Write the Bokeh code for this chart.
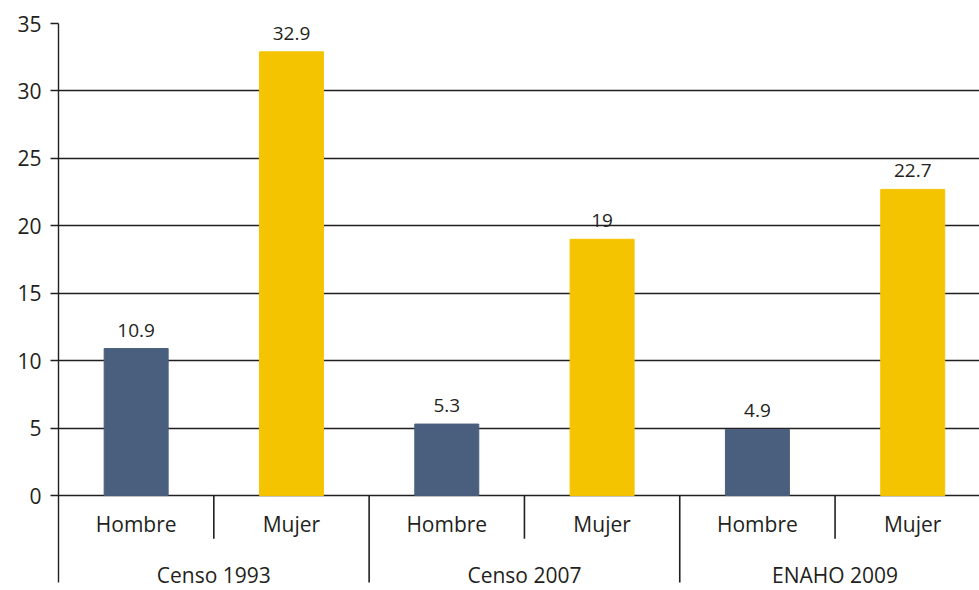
from bokeh.plotting import figure
from bokeh.models import Range1d, FixedTicker, ColumnDataSource, LabelSet
from bokeh.core.properties import value
from bokeh.embed import file_html
from bokeh.resources import INLINE

groups = ["Censo 1993", "Censo 2007", "ENAHO 2009"]
sexes = ["Hombre", "Mujer"]
values = [10.9, 32.9, 5.3, 19.0, 4.9, 22.7]
value_labels = ["10.9", "32.9", "5.3", "19", "4.9", "22.7"]
y_ticks = [0, 5, 10, 15, 20, 25, 30, 35]

FONT = "Open Sans"
DARK = "#231f20"
colors = {"Hombre": "#4a5f7e", "Mujer": "#f5c400"}

n = len(groups) * len(sexes)
xs = [i + 0.5 for i in range(n)]
sub_names = [s for g in groups for s in sexes]
bar_colors = [colors[s] for s in sub_names]

Y_BOTTOM = -7.04
AXIS_BOTTOM = -6.45

p = figure(width=979, height=590, output_backend="svg", toolbar_location=None,
           x_range=Range1d(0, 5.93), y_range=Range1d(Y_BOTTOM, 35),
           min_border_left=58, min_border_right=0, min_border_top=23, min_border_bottom=0)
p.outline_line_color = None
p.xaxis.visible = False
p.xgrid.visible = False

p.yaxis.ticker = FixedTicker(ticks=y_ticks)
p.yaxis.bounds = (AXIS_BOTTOM, 35)
p.yaxis.axis_line_color = DARK
p.yaxis.axis_line_width = 1.4
p.yaxis.major_tick_line_color = DARK
p.yaxis.major_tick_line_width = 1.4
p.yaxis.major_tick_out = 8
p.yaxis.major_tick_in = 0
p.yaxis.minor_tick_line_color = None
p.yaxis.major_label_standoff = 9
p.yaxis.major_label_text_font = FONT
p.yaxis.major_label_text_font_size = "21px"
p.yaxis.major_label_text_color = DARK

p.ygrid.ticker = FixedTicker(ticks=y_ticks)
p.ygrid.grid_line_color = DARK
p.ygrid.grid_line_width = 1.4

src = ColumnDataSource(dict(x=xs, top=values, color=bar_colors, lab=value_labels, name=sub_names,
                            ylab=[-2.1] * n))
p.vbar(x="x", top="top", bottom=0, width=0.412, color="color", source=src)

p.add_layout(LabelSet(x="x", y="top", text="lab", source=src, y_offset=12,
                      text_align="center", text_baseline="bottom",
                      text_font=value(FONT), text_font_size=value("19px"), text_color=DARK))
p.add_layout(LabelSet(x="x", y="ylab", text="name", source=src,
                      text_align="center", text_baseline="middle",
                      text_font=value(FONT), text_font_size=value("21px"), text_color=DARK))

gx = [2 * i + 1.0 for i in range(len(groups))]
gsrc = ColumnDataSource(dict(x=gx, name=groups, y=[-5.9] * len(groups)))
p.add_layout(LabelSet(x="x", y="y", text="name", source=gsrc,
                      text_align="center", text_baseline="middle",
                      text_font=value(FONT), text_font_size=value("21px"), text_color=DARK))

# separators between sexes (short) and between groups (long)
short_x = [2 * i + 1.0 for i in range(len(groups))]
long_x = [2 * i + 2.0 for i in range(len(groups) - 1)]
p.segment(x0=short_x, x1=short_x, y0=[0] * len(short_x), y1=[-3.2] * len(short_x),
          line_color=DARK, line_width=1.6)
p.segment(x0=long_x, x1=long_x, y0=[0] * len(long_x), y1=[AXIS_BOTTOM] * len(long_x),
          line_color=DARK, line_width=1.6)

open("out.html", "w").write(file_html(p, INLINE))
